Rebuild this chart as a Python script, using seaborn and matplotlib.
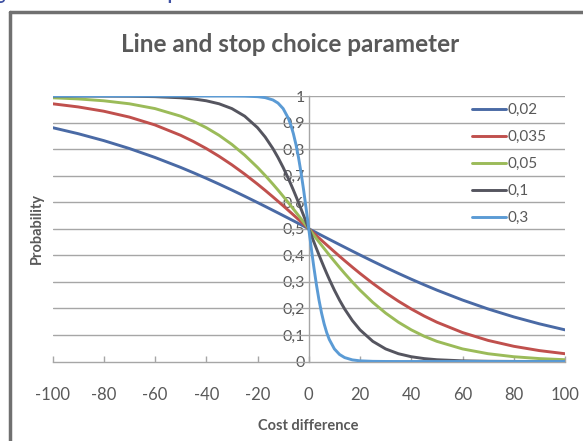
import numpy as np
import pandas as pd
import matplotlib
matplotlib.use("Agg")
import matplotlib.pyplot as plt
from matplotlib.lines import Line2D
import seaborn as sns

# ---------------- data ----------------
cost_difference = [-100, -90, -80, -70, -60, -50, -45, -40, -35, -30, -25, -20, -17, -14, -12,
                   -10, -8, -7, -6, -5, -4, -3, -2, -1, 0, 1, 2, 3, 4, 5, 6, 7, 8, 10, 12,
                   14, 17, 20, 25, 30, 35, 40, 45, 50, 60, 70, 80, 90, 100]

p_002 = [0.8808, 0.8581, 0.8320, 0.8022, 0.7685, 0.7311, 0.7109, 0.6900, 0.6682, 0.6457,
         0.6225, 0.5987, 0.5842, 0.5695, 0.5597, 0.5498, 0.5399, 0.5349, 0.5300, 0.5250,
         0.5200, 0.5150, 0.5100, 0.5050, 0.5000,
         0.4950, 0.4900, 0.4850, 0.4800, 0.4750, 0.4700, 0.4651, 0.4601, 0.4502, 0.4403,
         0.4305, 0.4158, 0.4013, 0.3775, 0.3543, 0.3318, 0.3100, 0.2891, 0.2689, 0.2315,
         0.1978, 0.1680, 0.1419, 0.1192]
p_0035 = [0.9707, 0.9589, 0.9427, 0.9206, 0.8909, 0.8520, 0.8285, 0.8022, 0.7729, 0.7408,
          0.7058, 0.6682, 0.6445, 0.6201, 0.6035, 0.5866, 0.5695, 0.5609, 0.5523, 0.5436,
          0.5349, 0.5262, 0.5175, 0.5087, 0.5000,
          0.4913, 0.4825, 0.4738, 0.4651, 0.4564, 0.4477, 0.4391, 0.4305, 0.4134, 0.3965,
          0.3799, 0.3555, 0.3318, 0.2942, 0.2592, 0.2271, 0.1978, 0.1715, 0.1480, 0.1091,
          0.0794, 0.0573, 0.0411, 0.0293]
p_005 = [0.9933, 0.9890, 0.9820, 0.9707, 0.9526, 0.9241, 0.9047, 0.8808, 0.8520, 0.8176,
         0.7773, 0.7311, 0.7006, 0.6682, 0.6457, 0.6225, 0.5987, 0.5866, 0.5744, 0.5622,
         0.5498, 0.5374, 0.5250, 0.5125, 0.5000,
         0.4875, 0.4750, 0.4626, 0.4502, 0.4378, 0.4256, 0.4134, 0.4013, 0.3775, 0.3543,
         0.3318, 0.2994, 0.2689, 0.2227, 0.1824, 0.1480, 0.1192, 0.0953, 0.0759, 0.0474,
         0.0293, 0.0180, 0.0110, 0.0067]
p_01 = [1.0000, 0.9999, 0.9997, 0.9991, 0.9975, 0.9933, 0.9890, 0.9820, 0.9707, 0.9526,
        0.9241, 0.8808, 0.8455, 0.8022, 0.7685, 0.7311, 0.6900, 0.6682, 0.6457, 0.6225,
        0.5987, 0.5744, 0.5498, 0.5250, 0.5000,
        0.4750, 0.4502, 0.4256, 0.4013, 0.3775, 0.3543, 0.3318, 0.3100, 0.2689, 0.2315,
        0.1978, 0.1545, 0.1192, 0.0759, 0.0474, 0.0293, 0.0180, 0.0110, 0.0067, 0.0025,
        0.0009, 0.0003, 0.0001, 0.0000]
p_03 = [1.0, 1.0, 1.0, 1.0, 1.0, 1.0, 1.0, 1.0, 1.0, 0.9999,
        0.9994, 0.9975, 0.9939, 0.9852, 0.9734, 0.9526, 0.9168, 0.8909, 0.8581, 0.8176,
        0.7685, 0.7109, 0.6457, 0.5744, 0.5000,
        0.4256, 0.3543, 0.2891, 0.2315, 0.1824, 0.1419, 0.1091, 0.0832, 0.0474, 0.0266,
        0.0148, 0.0061, 0.0025, 0.0006, 0.0001, 0.0, 0.0, 0.0, 0.0, 0.0,
        0.0, 0.0, 0.0, 0.0]

series_labels = ["0,02", "0,035", "0,05", "0,1", "0,3"]
series_values = [p_002, p_0035, p_005, p_01, p_03]
colors = ["#4a6aa5", "#c0504d", "#9bbb59", "#55555f", "#5b9bd5"]

x_ticks = [-100, -80, -60, -40, -20, 0, 20, 40, 60, 80, 100]
y_ticks = [0, 0.1, 0.2, 0.3, 0.4, 0.5, 0.6, 0.7, 0.8, 0.9, 1.0]
y_tick_labels = ["0", "0,1", "0,2", "0,3", "0,4", "0,5", "0,6", "0,7", "0,8", "0,9", "1"]

df = pd.DataFrame({
    "Cost difference": np.tile(cost_difference, len(series_labels)),
    "Probability": np.concatenate(series_values),
    "param": np.repeat(series_labels, len(cost_difference)),
})

# ---------------- figure ----------------
sns.set_theme(style="white")
plt.rcParams["font.family"] = ["Lato", "DejaVu Sans"]
plt.rcParams["axes.unicode_minus"] = False
W, H = 583, 441
fig = plt.figure(figsize=(W / 100, H / 100), dpi=100)
fig.patch.set_facecolor("white")

x0, x1 = 52.5, 565.0
y1px, y0px = 96.0, 361.5
ax = fig.add_axes([x0 / W, (H - y0px) / H, (x1 - x0) / W, (y0px - y1px) / H])

txt = "#595959"
grid_c = "#a6a6a6"

for yv in y_ticks[1:]:
    ax.axhline(yv, color=grid_c, lw=1.0, zorder=1)

sns.lineplot(data=df, x="Cost difference", y="Probability", hue="param",
             hue_order=series_labels, palette=colors, linewidth=2.1, ax=ax,
             legend=False, zorder=4)

ax.set_xlim(-100, 100)
ax.set_ylim(0, 1)
ax.set_xticks(x_ticks)
ax.set_xticklabels([str(v) for v in x_ticks])
ax.set_yticks(y_ticks)
ax.set_yticklabels(y_tick_labels)

for s in ["top", "right"]:
    ax.spines[s].set_visible(False)
ax.spines["left"].set_position(("data", 0))
ax.spines["left"].set_color(grid_c)
ax.spines["left"].set_linewidth(1.0)
ax.spines["left"].set_zorder(2)
ax.spines["bottom"].set_color(grid_c)
ax.spines["bottom"].set_linewidth(1.0)

ax.tick_params(axis="y", length=0, pad=3, labelsize=11.5, labelcolor=txt)
ax.tick_params(axis="x", direction="in", length=4, width=1, color=grid_c,
               pad=18, labelsize=12, labelcolor=txt, bottom=True)

ax.set_xlabel("Cost difference", fontsize=10.5, fontweight="bold", color=txt, labelpad=12)
ax.set_ylabel("")
fig.text(37 / W, 1 - 228 / H, "Probability", rotation=90, ha="center", va="center",
         fontsize=10.5, fontweight="bold", color=txt)

fig.text(290 / W, 1 - 45 / H, "Line and stop choice parameter", ha="center", va="center",
         fontsize=17.5, fontweight="bold", color=txt)

# legend
handles = [Line2D([0], [0], color=c, lw=2.1) for c in colors]
leg = ax.legend(handles, series_labels, loc="upper left",
                bbox_to_anchor=((466 - x0) / (x1 - x0), 1 - (97 - y1px) / (y0px - y1px)),
                frameon=False, fontsize=11, handlelength=2.2, handletextpad=0.1,
                labelspacing=0.85, borderaxespad=0)
for t in leg.get_texts():
    t.set_color(txt)

# cropped caption at the very top and outer frame
fig.text(250 / W, 1 + 5 / H, "Figure 4.1: Line and stop choice as a function of the cost difference",
         ha="center", va="center", fontsize=13, fontweight="bold", color="#3f51a3")
frame_c = "#707070"
fig.add_artist(Line2D([10 / W, 1.0], [1 - 12 / H, 1 - 12 / H], color=frame_c, lw=2.5,
                      transform=fig.transFigure))
fig.add_artist(Line2D([10 / W, 10 / W], [1 - 12 / H, 0.0], color=frame_c, lw=2.5,
                      transform=fig.transFigure))

fig.savefig("out.png", dpi=100, facecolor="white")
